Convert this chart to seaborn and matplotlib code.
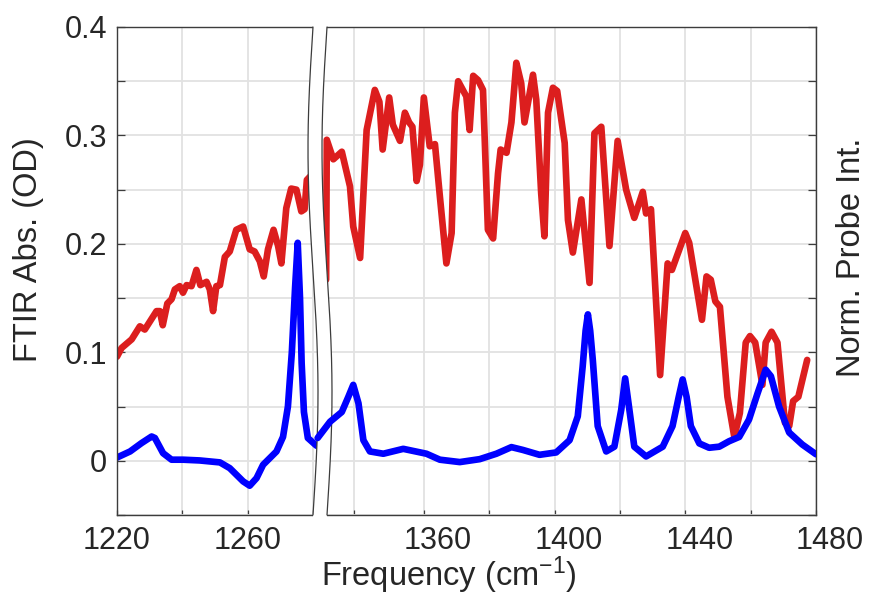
import numpy as np
import matplotlib
matplotlib.use("Agg")
import matplotlib.pyplot as plt
import seaborn as sns
from matplotlib.transforms import ScaledTranslation
from matplotlib.patches import Polygon
from matplotlib.lines import Line2D

# ---------------- data ----------------
red_left_x = [1220.0, 1221.4, 1224.5, 1227.0, 1228.5, 1232.1, 1233.1, 1234.0, 1235.4, 1236.7,
              1237.7, 1239.2, 1240.2, 1241.3, 1242.8, 1244.3, 1245.5, 1247.4, 1248.4, 1249.4,
              1250.4, 1251.5, 1253.0, 1254.5, 1256.5, 1258.6, 1260.6, 1262.1, 1263.7, 1264.9,
              1266.2, 1267.9, 1269.3, 1270.3, 1271.8, 1273.3, 1274.9, 1276.4, 1277.4, 1278.1,
              1280.0, 1282.0]
red_left_y = [0.096, 0.104, 0.112, 0.124, 0.121, 0.138, 0.138, 0.125, 0.145, 0.149,
              0.158, 0.161, 0.155, 0.162, 0.161, 0.176, 0.162, 0.165, 0.158, 0.138,
              0.161, 0.162, 0.188, 0.193, 0.213, 0.216, 0.195, 0.193, 0.184, 0.170,
              0.195, 0.213, 0.198, 0.182, 0.233, 0.251, 0.250, 0.230, 0.232, 0.259,
              0.265, 0.270]

blue_left_x = [1220.0, 1224.0, 1227.5, 1230.6, 1231.6, 1234.1, 1236.7, 1240.2, 1245.3, 1251.5,
               1254.5, 1258.6, 1260.6, 1262.7, 1264.7, 1268.8, 1270.8, 1272.3, 1273.5, 1274.5,
               1275.3, 1276.0, 1276.5, 1277.2, 1278.4, 1281.0, 1282.0]
blue_left_y = [0.003, 0.0086, 0.0163, 0.0224, 0.021, 0.007, 0.001, 0.001, 0.0003, -0.0015,
               -0.0068, -0.019, -0.023, -0.016, -0.0037, 0.0086, 0.022, 0.050, 0.100, 0.160,
               0.201, 0.150, 0.090, 0.045, 0.021, 0.014, 0.013]

red_right_x = [1330.1, 1330.3, 1332.3, 1334.9, 1337.4, 1338.4, 1340.5, 1342.5, 1345.0, 1346.4,
               1347.4, 1349.4, 1350.5, 1352.7, 1354.2, 1355.5, 1356.5, 1357.8, 1358.8, 1360.0,
               1361.8, 1363.4, 1364.9, 1366.9, 1368.5, 1369.5, 1370.5, 1373.0, 1374.0, 1375.1,
               1376.6, 1378.1, 1379.6, 1381.2, 1382.7, 1383.5, 1385.3, 1386.8, 1388.3, 1389.8,
               1390.8, 1393.4, 1394.4, 1395.9, 1396.9, 1398.0, 1399.5, 1400.8, 1403.1, 1404.1,
               1405.6, 1408.2, 1410.7, 1412.2, 1414.3, 1416.8, 1419.3, 1421.9, 1424.4, 1427.0,
               1428.0, 1429.5, 1432.3, 1434.6, 1435.9, 1440.0, 1441.2, 1445.1, 1446.5, 1447.8,
               1449.2, 1450.6, 1452.9, 1455.0, 1456.7, 1458.5, 1459.8, 1461.4, 1463.6, 1464.6,
               1466.4, 1468.2, 1470.5, 1471.8, 1473.0, 1474.6, 1477.3]
red_right_y = [0.167, 0.296, 0.278, 0.285, 0.253, 0.216, 0.187, 0.305, 0.342, 0.331,
               0.287, 0.335, 0.310, 0.295, 0.321, 0.312, 0.308, 0.258, 0.273, 0.335,
               0.290, 0.292, 0.244, 0.182, 0.210, 0.321, 0.350, 0.336, 0.305, 0.355,
               0.351, 0.342, 0.213, 0.205, 0.265, 0.287, 0.284, 0.312, 0.367, 0.348,
               0.312, 0.356, 0.333, 0.247, 0.207, 0.321, 0.344, 0.341, 0.293, 0.222,
               0.192, 0.241, 0.164, 0.302, 0.308, 0.198, 0.295, 0.250, 0.224, 0.248,
               0.228, 0.232, 0.079, 0.182, 0.176, 0.210, 0.201, 0.130, 0.170, 0.167,
               0.147, 0.142, 0.059, 0.022, 0.044, 0.109, 0.115, 0.109, 0.070, 0.109,
               0.119, 0.109, 0.035, 0.032, 0.055, 0.059, 0.093]

blue_right_x = [1327.5, 1331.3, 1334.9, 1336.9, 1338.4, 1340.0, 1341.5, 1343.5, 1347.6, 1353.7,
                1360.8, 1364.9, 1371.0, 1377.1, 1382.2, 1386.8, 1390.3, 1395.4, 1400.5, 1404.6,
                1407.1, 1408.6, 1409.5, 1410.2, 1410.9, 1411.7, 1413.2, 1415.8, 1418.3, 1420.4,
                1421.6, 1422.9, 1424.4, 1428.0, 1433.1, 1436.1, 1438.0, 1439.2, 1440.4, 1441.7,
                1444.3, 1447.3, 1450.4, 1453.4, 1456.5, 1459.5, 1462.1, 1464.6, 1466.2, 1468.7,
                1471.8, 1475.8, 1480.0]
blue_right_y = [0.021, 0.036, 0.045, 0.059, 0.070, 0.053, 0.019, 0.0086, 0.0065, 0.011,
                0.0065, 0.001, -0.0012, 0.0015, 0.0065, 0.0126, 0.010, 0.0055, 0.0077, 0.019,
                0.041, 0.087, 0.120, 0.135, 0.120, 0.093, 0.032, 0.0086, 0.013, 0.047,
                0.076, 0.047, 0.013, 0.004, 0.013, 0.032, 0.059, 0.075, 0.059, 0.032,
                0.016, 0.012, 0.013, 0.018, 0.022, 0.038, 0.062, 0.084, 0.078, 0.050,
                0.026, 0.015, 0.006]

left_xticks = [1220, 1240, 1260, 1280]
left_xticklabels = ["1220", "", "1260", ""]
right_xticks = [1338.5, 1360, 1380, 1400, 1420, 1440, 1460, 1480]
right_xticklabels = ["", "1360", "", "1400", "", "1440", "", "1480"]
yticks = [-0.05, 0.0, 0.05, 0.1, 0.15, 0.2, 0.25, 0.3, 0.35, 0.4]
yticklabels = ["", "0", "", "0.1", "", "0.2", "", "0.3", "", "0.4"]

xlabel = "Frequency (cm$^{-1}$)"
ylabel_left = "FTIR Abs. (OD)"
ylabel_right = "Norm. Probe Int."

# ---------------- style ----------------
sns.set_theme(style="whitegrid")
plt.rcParams['font.family'] = ['Liberation Sans', 'DejaVu Sans']
plt.rcParams['mathtext.default'] = 'regular'

RED = "#DC1E1E"
BLUE = "#0000FF"
TXT = "#262626"
SPINE = "#3c3c3c"
GRID = "#e2e2e2"
LW = 4.8
TICKFS = 22
LABELFS = 23.5

W, H = 870, 596
fig = plt.figure(figsize=(W / 100, H / 100), dpi=100)
fig.patch.set_facecolor("white")

PPU = 3.268           # pixels per cm-1
TOP, BOT = 27, 515    # pixel rows of the plot box
left_lim = (1220, 1282)
right_lim = (1326, 1480)
left_x0 = 117
right_x1 = 816
left_w = (left_lim[1] - left_lim[0]) * PPU
right_w = (right_lim[1] - right_lim[0]) * PPU


def fx(px):
    return px / W


def fy(py):
    return 1 - py / H


axL = fig.add_axes([fx(left_x0), fy(BOT), left_w / W, (BOT - TOP) / H])
axR = fig.add_axes([fx(right_x1 - right_w), fy(BOT), right_w / W, (BOT - TOP) / H])
axR.patch.set_alpha(0)

line_kw = dict(lw=LW, sort=False, estimator=None, legend=False,
               solid_joinstyle='round', solid_capstyle='round')
sns.lineplot(x=red_left_x, y=red_left_y, ax=axL, color=RED, zorder=2, **line_kw)
sns.lineplot(x=blue_left_x, y=blue_left_y, ax=axL, color=BLUE, zorder=2.2, **line_kw)
sns.lineplot(x=red_right_x, y=red_right_y, ax=axR, color=RED, zorder=2, **line_kw)
sns.lineplot(x=blue_right_x, y=blue_right_y, ax=axR, color=BLUE, zorder=3, **line_kw)

for ax, lim, ticks, labels in [(axL, left_lim, left_xticks, left_xticklabels),
                               (axR, right_lim, right_xticks, right_xticklabels)]:
    ax.set_xlim(*lim)
    ax.set_ylim(-0.05, 0.4)
    ax.set_xticks(ticks)
    ax.set_xticklabels(labels)
    ax.set_yticks(yticks)
    ax.set_xlabel("")
    ax.set_ylabel("")
    ax.grid(True, color=GRID, lw=1.3)
    ax.set_axisbelow(True)
    for s in ax.spines.values():
        s.set_color(SPINE)
        s.set_linewidth(1.0)
    ax.tick_params(axis='x', which='major', direction='in', length=3.8, width=0.9,
                   color=SPINE, bottom=True, top=False, labelsize=TICKFS,
                   labelcolor=TXT, pad=8)

axL.spines['right'].set_visible(False)
axR.spines['left'].set_visible(False)

axL.set_yticklabels(yticklabels)
axL.tick_params(axis='y', direction='in', length=5.8, width=0.9, color=SPINE,
                left=True, right=False, labelleft=True, labelsize=TICKFS,
                labelcolor=TXT, pad=7)
axR.set_yticklabels([""] * len(yticks))
axR.tick_params(axis='y', direction='in', length=5.8, width=0.9, color=SPINE,
                left=False, right=True, labelleft=False, labelright=False)

# right panel tick labels sit a little right of their ticks in the reference
offset = ScaledTranslation(14 / 100, 0, fig.dpi_scale_trans)
for lab in axR.xaxis.get_majorticklabels():
    lab.set_transform(lab.get_transform() + offset)

# ---------------- axis break ----------------
t = np.linspace(0, 1, 300)
amp, gap, xb = 5.0, 14.0, 313.0
yy = TOP + t * (BOT - TOP)
xl = xb - amp * np.sin(2 * np.pi * t)
xr = xl + gap
band = ([(xl[0], TOP - 2)] + list(zip(xl, yy)) + [(xl[-1], BOT + 2), (xr[-1], BOT + 2)]
        + list(zip(xr[::-1], yy[::-1])) + [(xr[0], TOP - 2)])
band = [(fx(a), fy(b)) for a, b in band]
axR.add_patch(Polygon(band, closed=True, facecolor="white", edgecolor="none",
                      transform=fig.transFigure, clip_on=False, zorder=2.7))
for xs in (xl, xr):
    axR.add_line(Line2D(fx(xs), fy(yy), color=SPINE, lw=0.9,
                        transform=fig.transFigure, clip_on=False, zorder=2.8))

# ---------------- labels ----------------
fig.text(fx(449), fy(586), xlabel, ha='center', va='baseline',
         fontsize=LABELFS, color=TXT)
fig.text(fx(29), fy(250), ylabel_left, ha='center', va='center', rotation=90,
         fontsize=LABELFS, color=TXT)
fig.text(fx(852), fy(257), ylabel_right, ha='center', va='center', rotation=90,
         fontsize=LABELFS, color=TXT)

fig.savefig("out.png", dpi=100, facecolor="white")
